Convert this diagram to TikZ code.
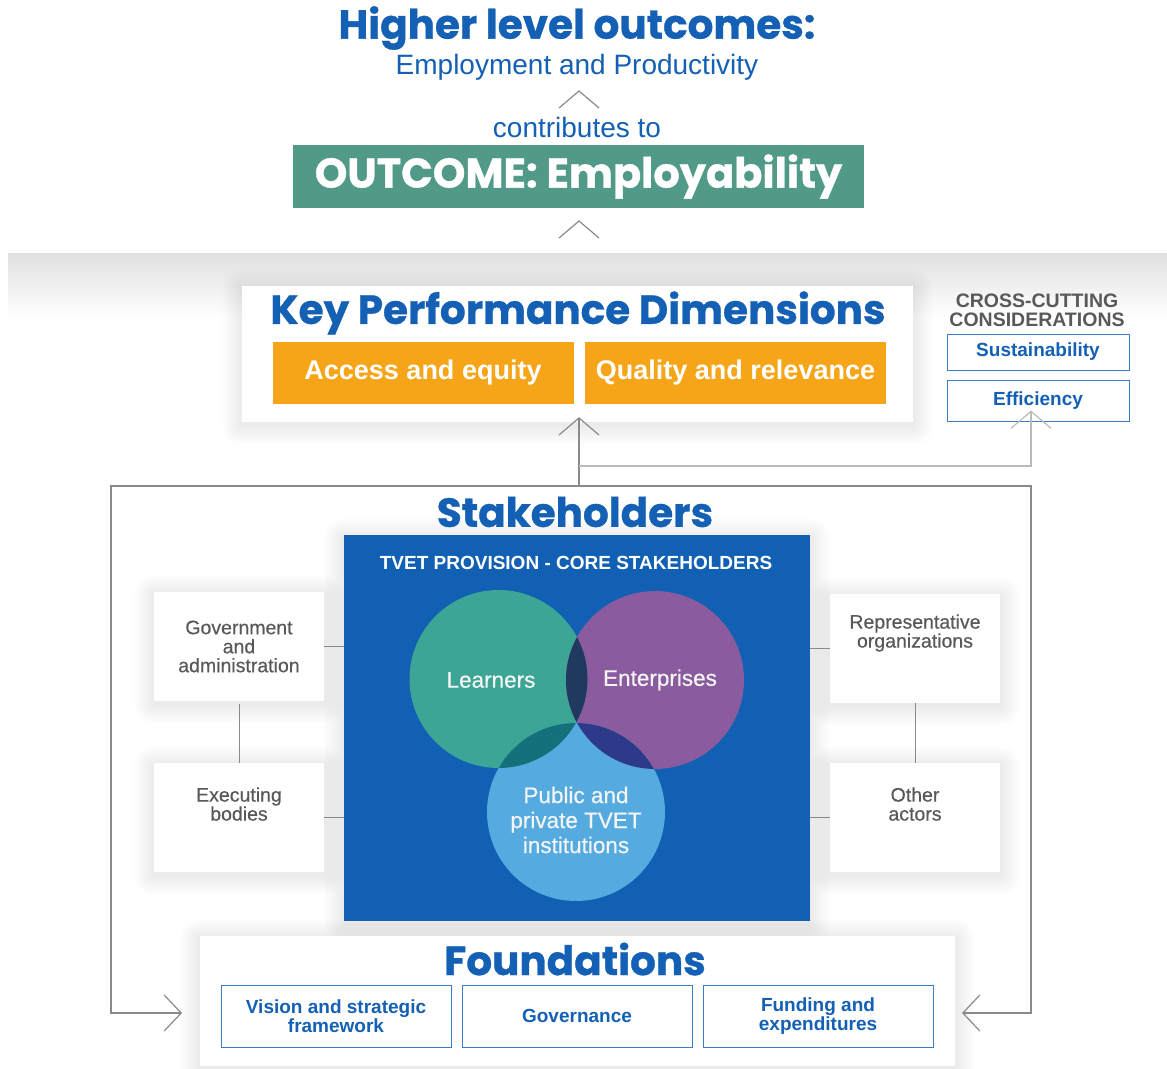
\documentclass[tikz,border=0pt]{standalone}
\usepackage{fontspec}
\setmainfont{Liberation Sans}
\newfontfamily\headfont[BoldFeatures={FakeBold=0.8}]{Poppins}
\newfontfamily\medfont[FakeBold=0.4]{Liberation Sans}
\usetikzlibrary{arrows.meta}
\pgfdeclarelayer{bg}
\pgfdeclarelayer{shadow}
\pgfsetlayers{bg,shadow,main}
\definecolor{headblue}{HTML}{1360B5}
\definecolor{outgreen}{HTML}{529A88}
\definecolor{kpdorange}{HTML}{F6A518}
\definecolor{coreblue}{HTML}{1160B4}
\definecolor{learncol}{HTML}{3DA596}
\definecolor{entcol}{HTML}{8A5B9F}
\definecolor{instcol}{HTML}{55ABDF}
\definecolor{lecol}{HTML}{1F3A5E}
\definecolor{licol}{HTML}{14707B}
\definecolor{eicol}{HTML}{2D3A8A}
\definecolor{textgray}{HTML}{595959}
\definecolor{linegray}{HTML}{8A8A8A}
\definecolor{lightline}{HTML}{BBBBBB}
\definecolor{outlineblue}{HTML}{3C7CC4}
\tikzset{
  heading/.style={font=\headfont\bfseries\fontsize{40.5}{42}\selectfont, text=headblue},
  subtext/.style={font=\fontsize{28}{30}\selectfont, text=headblue},
  chev/.style={draw=linegray, line width=1.2pt},
  uparrow/.style={draw=linegray, line width=1.2pt, -{Straight Barb[length=17pt,width=40pt]}},
  panel/.style={fill=white},
  dimbox/.style={fill=kpdorange, text=white, minimum width=301pt, minimum height=62pt, font=\bfseries\fontsize{27}{30}\selectfont},
  crossbox/.style={draw=outlineblue, line width=1pt, text=headblue, minimum width=182pt, font=\bfseries\fontsize{19}{21}\selectfont},
  sidebox/.style={fill=white, minimum width=170pt, minimum height=109pt, text=textgray, align=center, font=\medfont\fontsize{19.5}{19}\selectfont},
  venn/.style={circle, minimum size=178pt, inner sep=0pt},
  venntext/.style={text=white!92!gray, align=center, font=\medfont\fontsize{22.5}{25}\selectfont},
  foundbox/.style={draw=outlineblue, line width=1pt, text=headblue, minimum width=230pt, minimum height=62pt, align=center, font=\bfseries\fontsize{19}{19.5}\selectfont}
}
\begin{document}
\begin{tikzpicture}[x=1pt,y=-1pt]
\useasboundingbox (0,0) rectangle (1167,1068);
\begin{pgfonlayer}{bg}
  \fill[white] (0,0) rectangle (1167,1068);
  % Grey band
  \fill[top color=black!12, bottom color=white] (8,253) rectangle (1167,318);
\end{pgfonlayer}
% Top outcomes
\node[heading] (higher) at (577,28) {Higher level outcomes:};
\node[subtext] (employ) at (577,67) {Employment and Productivity};
\draw[chev] (559,108) -- (579,91) -- (599,108);
\node[subtext] (contrib) at (577,127) {contributes to};
\node[fill=outgreen, minimum width=571pt, minimum height=63pt, text=white,
  font=\headfont\bfseries\fontsize{41.5}{42}\selectfont] (outcome) at (578.5,176.5) {OUTCOME: Employability};
\draw[chev] (559,238) -- (579,221) -- (599,238);
% Key performance dimensions
\node[panel, minimum width=671pt, minimum height=136pt] (kpd) at (577.5,354) {};
\node[heading] (kpdtitle) at (578,313) {Key Performance Dimensions};
\node[dimbox] (access) at (423,373) {Access and equity};
\node[dimbox] (quality) at (735.5,373) {Quality and relevance};
% Cross-cutting
\node[text=textgray, align=center, font=\bfseries\fontsize{19.5}{19}\selectfont] (cross) at (1037,310) {CROSS-CUTTING\\CONSIDERATIONS};
\node[crossbox, minimum height=36pt] (sustain) at (1038,352) {Sustainability};
\node[crossbox, minimum height=41pt] (effic) at (1038,400.5) {Efficiency};
% Frame and arrows
\coordinate (stem) at (579,486);
\coordinate (branch) at (579,466);
\draw[uparrow] (stem) -- ([yshift=5pt]kpd.south -| stem);
\draw[uparrow, draw=lightline] (branch) -- (1031,466) -- ([yshift=11pt]effic.south -| 1031,0);
\draw[draw=linegray, line width=1.2pt, {Straight Barb[length=17pt,width=36pt]}-{Straight Barb[length=17pt,width=36pt]}]
  (182,1013) -- (111,1013) -- (111,486) -- (1031,486) -- (1031,1013) -- (962,1013);
% Stakeholders
\node[heading] (stake) at (575,512) {Stakeholders};
\node[fill=coreblue, minimum width=466pt, minimum height=386pt] (core) at (577,728) {};
\node[text=white, font=\bfseries\fontsize{19}{20}\selectfont] (coretitle) at (576,563) {TVET PROVISION - CORE STAKEHOLDERS};
\node[venn, fill=learncol] (learn) at (498.5,679) {};
\node[venn, fill=entcol] (ent) at (655,680) {};
\node[venn, fill=instcol] (inst) at (576,812) {};
\begin{scope}
  \clip (learn.center) circle (89pt);
  \fill[licol] (inst.center) circle (89pt);
\end{scope}
\begin{scope}
  \clip (ent.center) circle (89pt);
  \fill[eicol] (inst.center) circle (89pt);
\end{scope}
\begin{scope}
  \clip (learn.center) circle (89pt);
  \fill[lecol] (ent.center) circle (89pt);
\end{scope}
\node[venntext] (learnt) at (491,680) {Learners};
\node[venntext] (entt) at (660,680) {Enterprises};
\node[venntext] (instt) at (576,820) {Public and\\private TVET\\institutions};
% Side stakeholders
\node[sidebox] (gov) at (239,646.5) {Government\\and\\administration};
\node[sidebox] (exec) at (239,817.5) {Executing\\bodies\\[8pt]};
\node[sidebox] (rep) at (915,648.5) {Representative\\organizations\\[16pt]};
\node[sidebox] (other) at (915,817.5) {Other\\actors\\[8pt]};
\draw[linegray, line width=1pt] (gov.east) -- (gov.east -| core.west);
\draw[linegray, line width=1pt] (exec.east) -- (exec.east -| core.west);
\draw[linegray, line width=1pt] (rep.west) -- (rep.west -| core.east);
\draw[linegray, line width=1pt] (other.west) -- (other.west -| core.east);
\draw[linegray, line width=1pt] ([yshift=-3pt]gov.south) -- (exec.north);
\draw[linegray, line width=1pt] (rep.south) -- (other.north);
% Foundations
\node[panel, minimum width=755pt, minimum height=130pt] (found) at (577.5,1001) {};
\node[heading] (foundtitle) at (575,959) {Foundations};
\node[foundbox] (vision) at (336,1016) {Vision and strategic\\framework};
\node[foundbox] (govern) at (577,1016) {Governance};
\node[foundbox] (funding) at (818,1016) {Funding and\\expenditures};
% Soft shadows
\begin{pgfonlayer}{shadow}
  \foreach \n in {kpd,core,gov,exec,rep,other,found}
    \foreach \i in {1,...,20}
      \fill[black, opacity=0.0042, rounded corners=\i pt]
        ([shift={(-\i,-\i+3)}]\n.north west) rectangle ([shift={(\i,\i+3)}]\n.south east);
\end{pgfonlayer}
\end{tikzpicture}
\end{document}
